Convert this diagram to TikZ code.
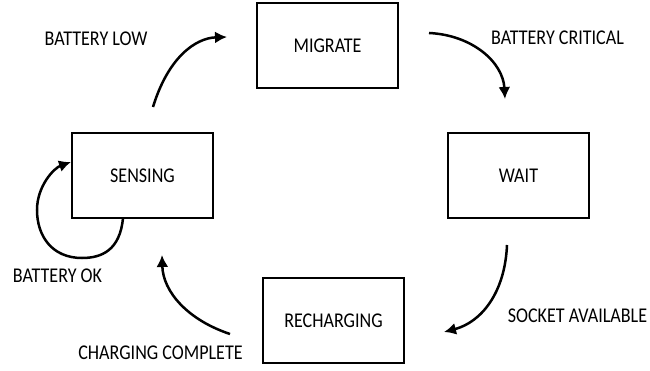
\documentclass[tikz,border=0pt]{standalone}
\usepackage{fontspec}
\setmainfont{Carlito}[FakeStretch=0.86]
\usetikzlibrary{arrows.meta}
\begin{document}
\begin{tikzpicture}[x=1pt,y=-1pt,
  statebox/.style={draw,line width=2.5pt,minimum width=141pt,minimum height=85pt,inner sep=0pt,
    font=\fontsize{21}{23}\selectfont,text height=13.5pt,text depth=0pt},
  lbl/.style={inner sep=0pt,anchor=base,font=\fontsize{21}{23}\selectfont},
  trans/.style={line width=2.5pt,-{Latex[length=12pt,width=12pt]}}]
\useasboundingbox (0,0) rectangle (650,371);
\node[statebox] (migrate) at (327.5,45.5) {MIGRATE};
\node[statebox] (sensing) at (142.5,175.5) {SENSING};
\node[statebox] (wait) at (518.5,175.5) {WAIT};
\node[statebox] (recharging) at (333.5,320.5) {RECHARGING};
\node[lbl] (lowlbl) at (96,46) {BATTERY LOW};
\node[lbl] (critlbl) at (557.5,45) {BATTERY CRITICAL};
\node[lbl] (oklbl) at (57.5,282) {BATTERY OK};
\node[lbl] (complbl) at (160.5,359) {CHARGING COMPLETE};
\node[lbl] (socklbl) at (577.5,322) {SOCKET AVAILABLE};
\coordinate (lowS) at (153,107);
\coordinate (lowE) at (227,37);
\coordinate (critS) at (429,33);
\coordinate (critE) at (505,99);
\coordinate (sockS) at (507,245);
\coordinate (sockE) at (444,332);
\coordinate (compS) at (230,334);
\coordinate (compE) at (162,255);
\coordinate (okS) at (123,218);
\coordinate (okE) at (71,162);
\draw[trans] (lowS) .. controls (168,58) and (195,38) .. (lowE);
\draw[trans] (critS) .. controls (472,35) and (503,62) .. (critE);
\draw[trans] (sockS) .. controls (505,292) and (482,322) .. (sockE);
\draw[trans] (compS) .. controls (188,320) and (163,292) .. (compE);
\draw[trans] (okS) .. controls (120,250) and (102,258) .. (82,258)
  .. controls (52,258) and (37,236) .. (37,210)
  .. controls (37,186) and (54,168) .. (okE);
\end{tikzpicture}
\end{document}
